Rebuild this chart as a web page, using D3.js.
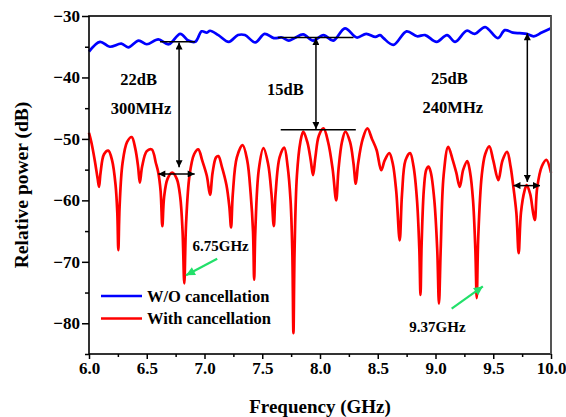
<!DOCTYPE html>
<html><head><meta charset="utf-8">
<script src="https://cdn.jsdelivr.net/npm/d3@7"></script>
<style>
html,body{margin:0;padding:0;background:#fff;}
svg text{font-family:"Liberation Serif","Times New Roman",serif;font-weight:bold;fill:#000;}
</style></head>
<body>
<svg id="chart" width="566" height="417"></svg>
<script>
// ---- data ----
const freqBlue = [6.0,6.095,6.18,6.28,6.34,6.43,6.50,6.60,6.69,6.79,6.86,6.92,6.976,7.02,7.048,7.12,7.21,7.29,7.35,7.44,7.52,7.60,7.67,7.73,7.78,7.855,7.94,8.03,8.115,8.216,8.318,8.40,8.48,8.52,8.55,8.635,8.75,8.84,8.91,9.01,9.10,9.17,9.27,9.34,9.43,9.54,9.60,9.67,9.73,9.79,9.85,9.92,10.0];
const powerBlue = [-35.8,-34.2,-35.0,-34.5,-35.1,-34.0,-34.6,-33.8,-34.6,-32.9,-34.0,-34.2,-32.5,-32.7,-32.4,-33.1,-34.2,-33.1,-33.1,-34.3,-32.9,-33.6,-33.5,-34.0,-33.6,-33.0,-34.0,-33.1,-34.0,-32.0,-33.5,-32.9,-33.4,-33.1,-33.6,-34.7,-32.5,-33.3,-33.1,-34.2,-33.1,-34.2,-32.4,-32.9,-31.8,-33.6,-32.3,-32.7,-32.8,-32.9,-33.3,-32.7,-32.0];

const freqRed = [6.000,6.02,6.05,6.075,6.087,6.10,6.13,6.167,6.20,6.23,6.245,6.254,6.265,6.29,6.33,6.37,6.40,6.425,6.44,6.46,6.50,6.543,6.58,6.60,6.62,6.635,6.65,6.68,6.72,6.76,6.79,6.81,6.825,6.84,6.87,6.91,6.946,6.98,7.02,7.048,7.07,7.10,7.12,7.15,7.19,7.215,7.23,7.245,7.28,7.33,7.37,7.40,7.42,7.43,7.44,7.47,7.51,7.55,7.58,7.60,7.615,7.65,7.69,7.72,7.745,7.76,7.77,7.78,7.80,7.83,7.855,7.89,7.92,7.94,7.96,7.99,8.03,8.07,8.11,8.14,8.16,8.19,8.22,8.26,8.29,8.31,8.33,8.37,8.41,8.45,8.49,8.53,8.56,8.60,8.63,8.66,8.69,8.71,8.74,8.78,8.81,8.84,8.86,8.87,8.88,8.90,8.92,8.94,8.96,8.99,9.015,9.03,9.045,9.07,9.11,9.15,9.18,9.21,9.24,9.275,9.30,9.325,9.345,9.357,9.37,9.40,9.43,9.466,9.50,9.544,9.58,9.62,9.65,9.67,9.70,9.72,9.74,9.77,9.79,9.82,9.845,9.86,9.88,9.92,9.96,10.0];
const powerRed = [-49.0,-50.5,-53.5,-56.5,-57.8,-55.5,-52.5,-51.9,-53.5,-57.5,-62,-68.1,-61,-54,-50.5,-49.7,-51.5,-54.5,-57.1,-54.5,-52,-51.7,-54,-55.5,-58.5,-64.2,-59.5,-56.5,-55.5,-56.5,-59.5,-65,-73.5,-64,-56,-52.5,-51.7,-53.5,-56,-59.1,-55.5,-53,-52.8,-54.5,-57.5,-61,-64.4,-59,-53,-51.0,-53.5,-59,-65,-72.9,-65,-55,-51.5,-54,-59,-64.2,-59,-53,-51.4,-54.5,-60,-68,-81.6,-68,-56,-50.5,-48.8,-50.5,-53.5,-55.9,-53,-49.5,-48.3,-50.5,-55,-60.0,-55,-50.5,-48.8,-50.5,-54,-57.3,-54,-50,-48.3,-50,-51.8,-55.1,-53.5,-52.3,-54,-58.5,-66.5,-59,-53.5,-52.3,-54.5,-60,-68,-75.4,-67,-58,-55,-54.5,-55.5,-60,-68,-76.8,-68,-56,-51.3,-53.5,-55.5,-57.8,-55,-53.6,-55.5,-60,-68,-75.9,-66,-56,-52.5,-51.2,-53.5,-56.7,-53.5,-52.1,-54.5,-57.2,-62,-68.6,-62,-58.5,-57.5,-59,-62,-63.2,-58,-54.5,-53.4,-55.5];

const xTicks = [6.0,6.5,7.0,7.5,8.0,8.5,9.0,9.5,10.0];
const xMinor = [6.25,6.75,7.25,7.75,8.25,8.75,9.25,9.75];
const yTicks = [-30,-40,-50,-60,-70,-80];
const yMinor = [-35,-45,-55,-65,-75,-85];
const seriesNames = ["W/O cancellation","With cancellation"];
const seriesColors = ["#0000ff","#ff0000"];
const xTitle = "Frequency (GHz)";
const yTitle = "Relative power (dB)";

// annotations (data units)
const levelLines = [ // [x0,x1,y]
  [6.615,6.918,-34.2],
  [7.635,8.29,-33.5],
  [7.66,8.31,-48.5]
];
const vArrows = [ // [x, yTop, yBottom]
  [6.78,-34.3,-54.6],
  [7.965,-33.6,-48.4],
  [9.795,-32.8,-57.0]
];
const hArrows = [ // [x0,x1,y]
  [6.60,6.915,-55.7],
  [9.675,9.905,-57.6]
];
const labelTexts = ["22dB","300MHz","15dB","25dB","240MHz","6.75GHz","9.37GHz"];
const labelPos = [[6.43,-40.6],[6.45,-45.4],[7.7,-42.2],[9.12,-40.5],[9.15,-45.2],[7.14,-67.6],[9.017,-80.8]];
const greenArrows = [ // [x0,y0,x1,y1]
  [7.11,-69.5,6.84,-72.2],
  [9.14,-77.6,9.41,-74.0]
];

// ---- chart ----
const W = 566, H = 417;
const L = 89, R = 551, T = 16, B = 354;
const svg = d3.select("#chart");
const x = d3.scaleLinear().domain([6,10]).range([L,R]);
const y = d3.scaleLinear().domain([-85,-30]).range([B,T]);

const defs = svg.append("defs");
function marker(id, color, w, h){
  defs.append("marker").attr("id",id).attr("viewBox","0 -5 10 10")
    .attr("refX",10).attr("refY",0).attr("markerUnits","userSpaceOnUse")
    .attr("markerWidth",w).attr("markerHeight",h).attr("orient","auto-start-reverse")
    .append("path").attr("d","M0,-5L10,0L0,5Z").attr("fill",color);
}
marker("ab","#000",8,7);
marker("ag","#22e06a",10,9);

// data lines
const line = d3.line().x((d)=>x(d[0])).y((d)=>y(d[1])).curve(d3.curveCatmullRom.alpha(0.5));
svg.append("path").datum(freqBlue.map((f,i)=>[f,powerBlue[i]]))
  .attr("d",line).attr("fill","none").attr("stroke",seriesColors[0]).attr("stroke-width",2.7).attr("stroke-linejoin","round");
svg.append("path").datum(freqRed.map((f,i)=>[f,powerRed[i]]))
  .attr("d",line).attr("fill","none").attr("stroke",seriesColors[1]).attr("stroke-width",2.7).attr("stroke-linejoin","round");

// axes
svg.append("g").attr("transform",`translate(0,${B})`)
  .call(d3.axisBottom(x).tickValues(xTicks).tickFormat(d3.format(".1f")).tickSize(5).tickSizeOuter(0).tickPadding(3));
svg.append("g").attr("transform",`translate(0,${B})`)
  .call(d3.axisBottom(x).tickValues(xMinor).tickFormat("").tickSize(3).tickSizeOuter(0));
svg.append("g").attr("transform",`translate(${L},0)`)
  .call(d3.axisLeft(y).tickValues(yTicks).tickSize(7).tickSizeOuter(0).tickPadding(2));
svg.append("g").attr("transform",`translate(${L},0)`)
  .call(d3.axisLeft(y).tickValues(yMinor).tickFormat("").tickSize(4).tickSizeOuter(0));
svg.selectAll(".domain").remove();
svg.selectAll(".tick line").attr("stroke","#000").attr("stroke-width",1.5);
svg.selectAll(".tick text").style("font-size","17px").attr("fill","#000");
// frame
svg.append("rect").attr("x",L).attr("y",T).attr("width",R-L).attr("height",B-T)
  .attr("fill","none").attr("stroke","#000").attr("stroke-width",1.6);
svg.append("line").attr("x1",R).attr("x2",R).attr("y1",T).attr("y2",B).attr("stroke","#555").attr("stroke-width",2);

// titles
svg.append("text").attr("x",(L+R)/2).attr("y",413).attr("text-anchor","middle").style("font-size","19px").text(xTitle);
svg.append("text").attr("transform",`translate(28,${(T+B)/2}) rotate(-90)`).attr("text-anchor","middle").style("font-size","19.5px").text(yTitle);

// annotations
levelLines.forEach((d)=>svg.append("line").attr("x1",x(d[0])).attr("x2",x(d[1])).attr("y1",y(d[2])).attr("y2",y(d[2])).attr("stroke","#000").attr("stroke-width",1.5));
vArrows.forEach((d)=>svg.append("line").attr("x1",x(d[0])).attr("x2",x(d[0])).attr("y1",y(d[1])).attr("y2",y(d[2])).attr("stroke","#000").attr("stroke-width",1.5).attr("marker-start","url(#ab)").attr("marker-end","url(#ab)"));
hArrows.forEach((d)=>svg.append("line").attr("x1",x(d[0])).attr("x2",x(d[1])).attr("y1",y(d[2])).attr("y2",y(d[2])).attr("stroke","#000").attr("stroke-width",1.5).attr("marker-start","url(#ab)").attr("marker-end","url(#ab)"));
labelTexts.forEach((t,i)=>{
  const small = i>=5;
  svg.append("text").attr("x",x(labelPos[i][0])).attr("y",y(labelPos[i][1])).attr("text-anchor","middle")
    .attr("dominant-baseline","middle").style("font-size", small?"15px":"16.5px").text(t);
});
greenArrows.forEach((d)=>svg.append("line").attr("x1",x(d[0])).attr("y1",y(d[1])).attr("x2",x(d[2])).attr("y2",y(d[3])).attr("stroke","#22e06a").attr("stroke-width",2.2).attr("marker-end","url(#ag)"));

// legend
const lg = svg.append("g");
seriesNames.forEach((n,i)=>{
  const yy = 296 + i*22.5;
  lg.append("line").attr("x1",101).attr("x2",142).attr("y1",yy).attr("y2",yy).attr("stroke",seriesColors[i]).attr("stroke-width",2.7);
  lg.append("text").attr("x",147).attr("y",yy+5.5).style("font-size","16.5px").text(n);
});
</script>
</body></html>
